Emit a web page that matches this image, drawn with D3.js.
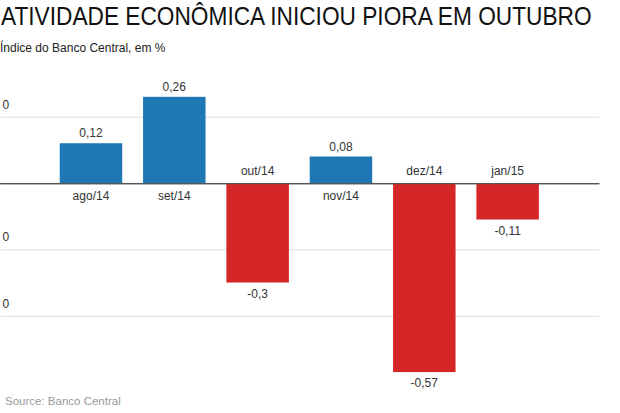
<!DOCTYPE html>
<html><head><meta charset="utf-8">
<script src="https://cdn.jsdelivr.net/npm/d3@7"></script>
<style>
body{margin:0;background:#fff;}
svg{display:block;font-family:"Liberation Sans",Arial,Helvetica,sans-serif;}
</style></head>
<body><svg id="c" width="620" height="413"></svg>
<script>
const categories = ["ago/14","set/14","out/14","nov/14","dez/14","jan/15"];
const values = [0.12, 0.26, -0.3, 0.08, -0.57, -0.11];
const valueLabels = ["0,12","0,26","-0,3","0,08","-0,57","-0,11"];
const tickValues = [0.2, 0, -0.2, -0.4];
const tickLabels = ["0", "", "0", "0"];
const title = "ATIVIDADE ECONÔMICA INICIOU PIORA EM OUTUBRO";
const subtitle = "Índice do Banco Central, em %";
const source = "Source: Banco Central";

const svg = d3.select("#c");
const x = d3.scaleBand().domain(categories).range([49.3, 549.3]).paddingInner(0.25).paddingOuter(0.125);
const y = d3.scaleLinear().domain([-0.4, 0.2]).range([315.7, 116.7]);

const t = svg.append("text").attr("x", 0).attr("y", 0).attr("font-size", 25).attr("fill", "#111").text(title);
const natural = t.node().getComputedTextLength();
t.attr("transform", `translate(1,24.5) scale(${591 / natural},1)`);

svg.append("text").attr("x", 0).attr("y", 51.5).attr("font-size", 12).attr("fill", "#222").text(subtitle);

const axis = d3.axisRight(y).tickValues(tickValues).tickSize(599)
  .tickFormat((d, i) => tickLabels[i]);
const g = svg.append("g").attr("transform", "translate(0.5,0)").call(axis);
g.select(".domain").remove();
g.selectAll(".tick line").attr("stroke", d => d === 0 ? "#555" : "#ddd").attr("stroke-width", d => d === 0 ? 1.2 : 1);
g.selectAll(".tick text").attr("x", 2).attr("dy", "-0.7em").attr("font-size", 12).attr("fill", "#333")
  .attr("font-family", "Liberation Sans, Arial, sans-serif");

// bars
svg.append("g").selectAll("rect").data(values).join("rect")
  .attr("x", (d, i) => x(categories[i]))
  .attr("width", x.bandwidth())
  .attr("y", d => y(Math.max(0, d)))
  .attr("height", d => Math.abs(y(d) - y(0)))
  .attr("fill", d => d >= 0 ? "#1f77b4" : "#d62728");

// redraw zero line on top
svg.append("line").attr("x1", 0).attr("x2", 599).attr("y1", y(0) + 0.5).attr("y2", y(0) + 0.5).attr("stroke", "#555").attr("stroke-width", 1.2);

// value labels
svg.append("g").selectAll("text").data(values).join("text")
  .attr("x", (d, i) => x(categories[i]) + x.bandwidth() / 2)
  .attr("y", d => d >= 0 ? y(d) - 6 : y(d) + 15)
  .attr("text-anchor", "middle").attr("font-size", 12).attr("fill", "#333")
  .text((d, i) => valueLabels[i]);

// category labels
svg.append("g").selectAll("text").data(values).join("text")
  .attr("x", (d, i) => x(categories[i]) + x.bandwidth() / 2)
  .attr("y", d => d >= 0 ? y(0) + 17 : y(0) - 8)
  .attr("text-anchor", "middle").attr("font-size", 12).attr("fill", "#333")
  .text((d, i) => categories[i]);

svg.append("text").attr("x", 5).attr("y", 405).attr("font-size", 11.5).attr("fill", "#999").text(source);
</script></body></html>
